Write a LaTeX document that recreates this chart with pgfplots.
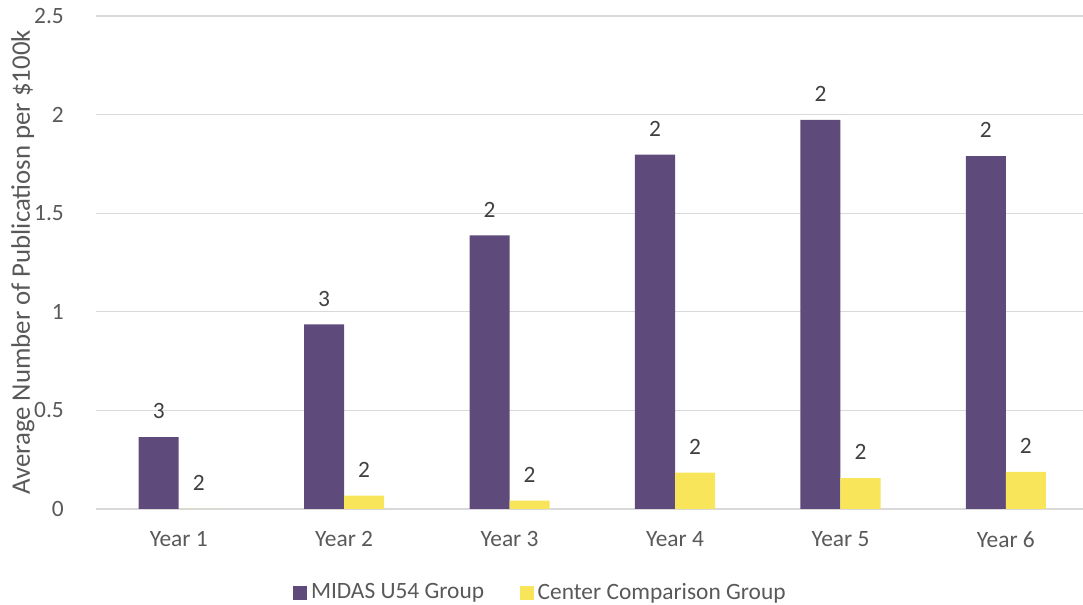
\documentclass[border=0pt]{standalone}
\usepackage{pgfplots}
\pgfplotsset{compat=1.18}
\usepackage{fontspec}
\setmainfont{Carlito}
\definecolor{midas}{HTML}{5F4B7B}
\definecolor{center}{HTML}{F8E55A}
\definecolor{txtgray}{HTML}{595959}
\definecolor{lblgray}{HTML}{404040}
\definecolor{gridgray}{HTML}{D9D9D9}
\begin{document}
\fontsize{11.7}{14}\selectfont
\begin{tikzpicture}
\useasboundingbox (-48pt,-48pt) rectangle (493.5pt,254.5pt);
\begin{axis}[
  at={(0,0)}, anchor=south west,
  scale only axis=true,
  width=493.5pt, height=246.5pt,
  ybar, bar width=0.242,
  xmin=-0.5, xmax=5.466,
  ymin=0, ymax=2.5,
  ytick={0,0.5,1,1.5,2,2.5},
  yticklabels={0,0.5,1,1.5,2,2.5},
  xtick={0,1,2,3,4,5},
  xticklabels={Year 1,Year 2,Year 3,Year 4,Year 5,Year 6},
  axis line style={draw=none},
  major tick length=0pt,
  ymajorgrids=true,
  grid style={gridgray, line width=0.6pt},
  tick label style={font=\fontsize{11.7}{14}\selectfont, text=txtgray},
  /pgf/number format/assume math mode=true,
  yticklabel style={anchor=east, xshift=-12pt},
  xticklabel style={anchor=north, yshift=-7pt},
  ylabel={Average Number of Publicatiosn per \$100k},
  ylabel style={at={(axis description cs:-0.074,0.5)}, anchor=center, font=\fontsize{13.4}{16}\selectfont, text=txtgray},
  nodes near coords,
  point meta=explicit symbolic,
  every node near coord/.append style={font=\fontsize{11.7}{14}\selectfont, text=lblgray, yshift=5pt},
  legend columns=2,
  legend style={at={(axis description cs:0.4514,-0.17)}, anchor=center, draw=none, fill=none,
    font=\fontsize{11.7}{14}\selectfont, text=txtgray,
    /tikz/every even column/.append style={column sep=16pt}},
  legend image code/.code={\fill[#1] (0pt,-3.4pt) rectangle (6.8pt,3.4pt);},
  clip=false,
]
\addplot[fill=midas, draw=none, bar shift=-0.121] coordinates {
  (0,0.365) [3]
  (1,0.936) [3]
  (2,1.387) [2]
  (3,1.797) [2]
  (4,1.973) [2]
  (5,1.790) [2]
};
\addplot[fill=center, draw=none, bar shift=0.121] coordinates {
  (0,0) [2]
  (1,0.068) [2]
  (2,0.043) [2]
  (3,0.185) [2]
  (4,0.157) [2]
  (5,0.188) [2]
};
\legend{MIDAS U54 Group, Center Comparison Group}
\end{axis}
\end{tikzpicture}
\end{document}
